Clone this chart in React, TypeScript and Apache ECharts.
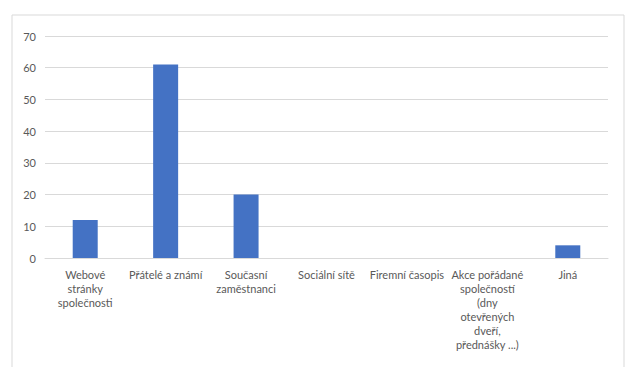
import React, { useEffect, useRef } from "react";
import * as echarts from "echarts";

const categories = [
  "Webové\nstránky\nspolečnosti",
  "Přátelé a známí",
  "Současní\nzaměstnanci",
  "Sociální sítě",
  "Firemní časopis",
  "Akce pořádané\nspolečností\n(dny\notevřených\ndveří,\npřednášky ...)",
  "Jiná",
];
const values = [12, 61, 20, 0, 0, 0, 4];
const yTicks = { min: 0, max: 70, interval: 10 };

export default function App() {
  const ref = useRef<HTMLDivElement>(null);
  useEffect(() => {
    if (!ref.current) return;
    const chart = echarts.init(ref.current, null, { renderer: "svg" });
    chart.setOption({
      animation: false,
      backgroundColor: "#ffffff",
      graphic: [
        {
          type: "rect",
          shape: { x: 12, y: 15, width: 612, height: 360 },
          style: { fill: "none", stroke: "#d9d9d9", lineWidth: 1 },
          silent: true,
        },
      ],
      grid: { left: 45, right: 22, top: 36, bottom: 109 },
      xAxis: {
        type: "category",
        data: categories,
        axisLine: { show: true, lineStyle: { color: "#d9d9d9", width: 1 } },
        axisTick: { show: false },
        axisLabel: {
          interval: 0,
          color: "#595959",
          fontFamily: "Lato",
          fontSize: 11,
          lineHeight: 14,
          margin: 9,
          align: "center",
        },
      },
      yAxis: {
        type: "value",
        min: yTicks.min,
        max: yTicks.max,
        interval: yTicks.interval,
        axisLine: { show: false },
        axisTick: { show: false },
        axisLabel: {
          color: "#595959",
          fontFamily: "Lato",
          fontSize: 11,
          margin: 9,
        },
        splitLine: { lineStyle: { color: "#d9d9d9", width: 1 } },
      },
      series: [
        {
          type: "bar",
          data: values,
          barWidth: 25,
          itemStyle: { color: "#4472c4" },
        },
      ],
    });
    return () => chart.dispose();
  }, []);
  return (
    <div
      ref={ref}
      style={{ position: "fixed", left: 0, top: 0, width: 630, height: 367 }}
    />
  );
}
